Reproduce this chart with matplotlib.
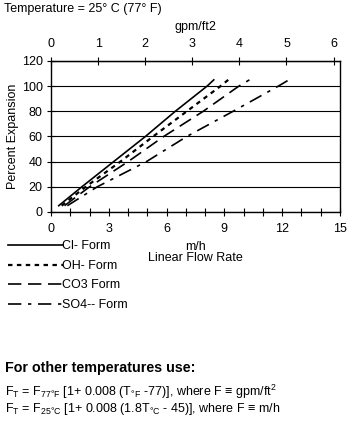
import numpy as np
import matplotlib.pyplot as plt
from matplotlib.ticker import MultipleLocator, FixedLocator

plt.rcParams['font.family'] = ['Liberation Sans', 'DejaVu Sans']
plt.rcParams['mathtext.fontset'] = 'custom'
plt.rcParams['mathtext.rm'] = 'Liberation Sans'

# Percent expansion vs linear flow rate (m/h)
expansion = [5, 20, 40, 60, 80, 100, 105]
cl_form = [0.4, 1.6, 3.25, 4.9, 6.45, 8.1, 8.45]
oh_form = [0.55, 1.8, 3.6, 5.3, 7.05, 8.8, 9.2]
co3_form = [0.7, 2.0, 4.0, 5.85, 7.9, 9.75, 10.3]
so4_form = [0.85, 2.4, 4.95, 7.05, 9.45, 11.8, 12.35]

gpm_ticks = [0, 1, 2, 3, 4, 5, 6]
labels = ['Cl- Form', 'OH- Form', 'CO3 Form', 'SO4-- Form']
styles = ['-', (0, (2, 2)), (0, (8, 4)), (0, (8, 4, 2, 4))]
widths = [1.2, 1.6, 1.2, 1.2]

M_PER_GPM = 2.4448  # 1 gpm/ft2 = 2.4448 m/h
FS = 9

fig = plt.figure(figsize=(3.53, 4.25), dpi=100)
ax = fig.add_axes([0.1445, 0.5012, 0.8185, 0.3553])

lines = []
for xs, lab, ls, lw in zip([cl_form, oh_form, co3_form, so4_form], labels, styles, widths):
    ln, = ax.plot(xs, expansion, color='black', linestyle=ls, linewidth=lw, label=lab)
    lines.append(ln)

ax.set_xlim(0, 15)
ax.set_ylim(0, 120)
ax.xaxis.set_major_locator(MultipleLocator(3))
ax.xaxis.set_minor_locator(MultipleLocator(1))
ax.yaxis.set_major_locator(MultipleLocator(20))
ax.tick_params(axis='both', which='both', direction='inout', color='black',
               labelsize=FS, width=0.8)
ax.tick_params(axis='x', which='major', length=6, pad=5)
ax.tick_params(axis='x', which='minor', length=6)
ax.tick_params(axis='y', length=6, pad=3)
ax.grid(axis='y', color='black', linewidth=0.8)
for s in ax.spines.values():
    s.set_linewidth(1.0)

ax.set_ylabel('Percent Expansion', fontsize=FS, labelpad=2)
ax.set_xlabel('m/h\nLinear Flow Rate', fontsize=FS, labelpad=4, linespacing=0.95)

top = ax.secondary_xaxis('top', functions=(lambda x: x / M_PER_GPM, lambda g: g * M_PER_GPM))
top.xaxis.set_major_locator(FixedLocator(gpm_ticks))
top.tick_params(direction='inout', length=6, width=0.8, labelsize=FS, pad=5)
top.set_xlabel('gpm/ft2', fontsize=FS, labelpad=6)

fig.text(0.012, 0.993, 'Temperature = 25° C (77° F)', fontsize=FS, va='top')

fig.legend(handles=lines, loc='upper left', bbox_to_anchor=(0.0, 0.452),
           frameon=False, fontsize=FS, handlelength=4.4, handletextpad=0.0,
           labelspacing=0.6, borderaxespad=0.2)

fig.text(0.014, 0.135, 'For other temperatures use:', fontsize=10.3, fontweight='bold', va='center')
fig.text(0.014, 0.078,
         r'F$_\mathregular{T}$ = F$_\mathregular{77°F}$ [1+ 0.008 (T$_\mathregular{°F}$ -77)], '
         r'where F ≡ gpm/ft$^\mathregular{2}$', fontsize=FS, va='center')
fig.text(0.014, 0.038,
         r'F$_\mathregular{T}$ = F$_\mathregular{25°C}$ [1+ 0.008 (1.8T$_\mathregular{°C}$ - 45)], '
         r'where F ≡ m/h', fontsize=FS, va='center')

fig.savefig('out.png', dpi=100)
